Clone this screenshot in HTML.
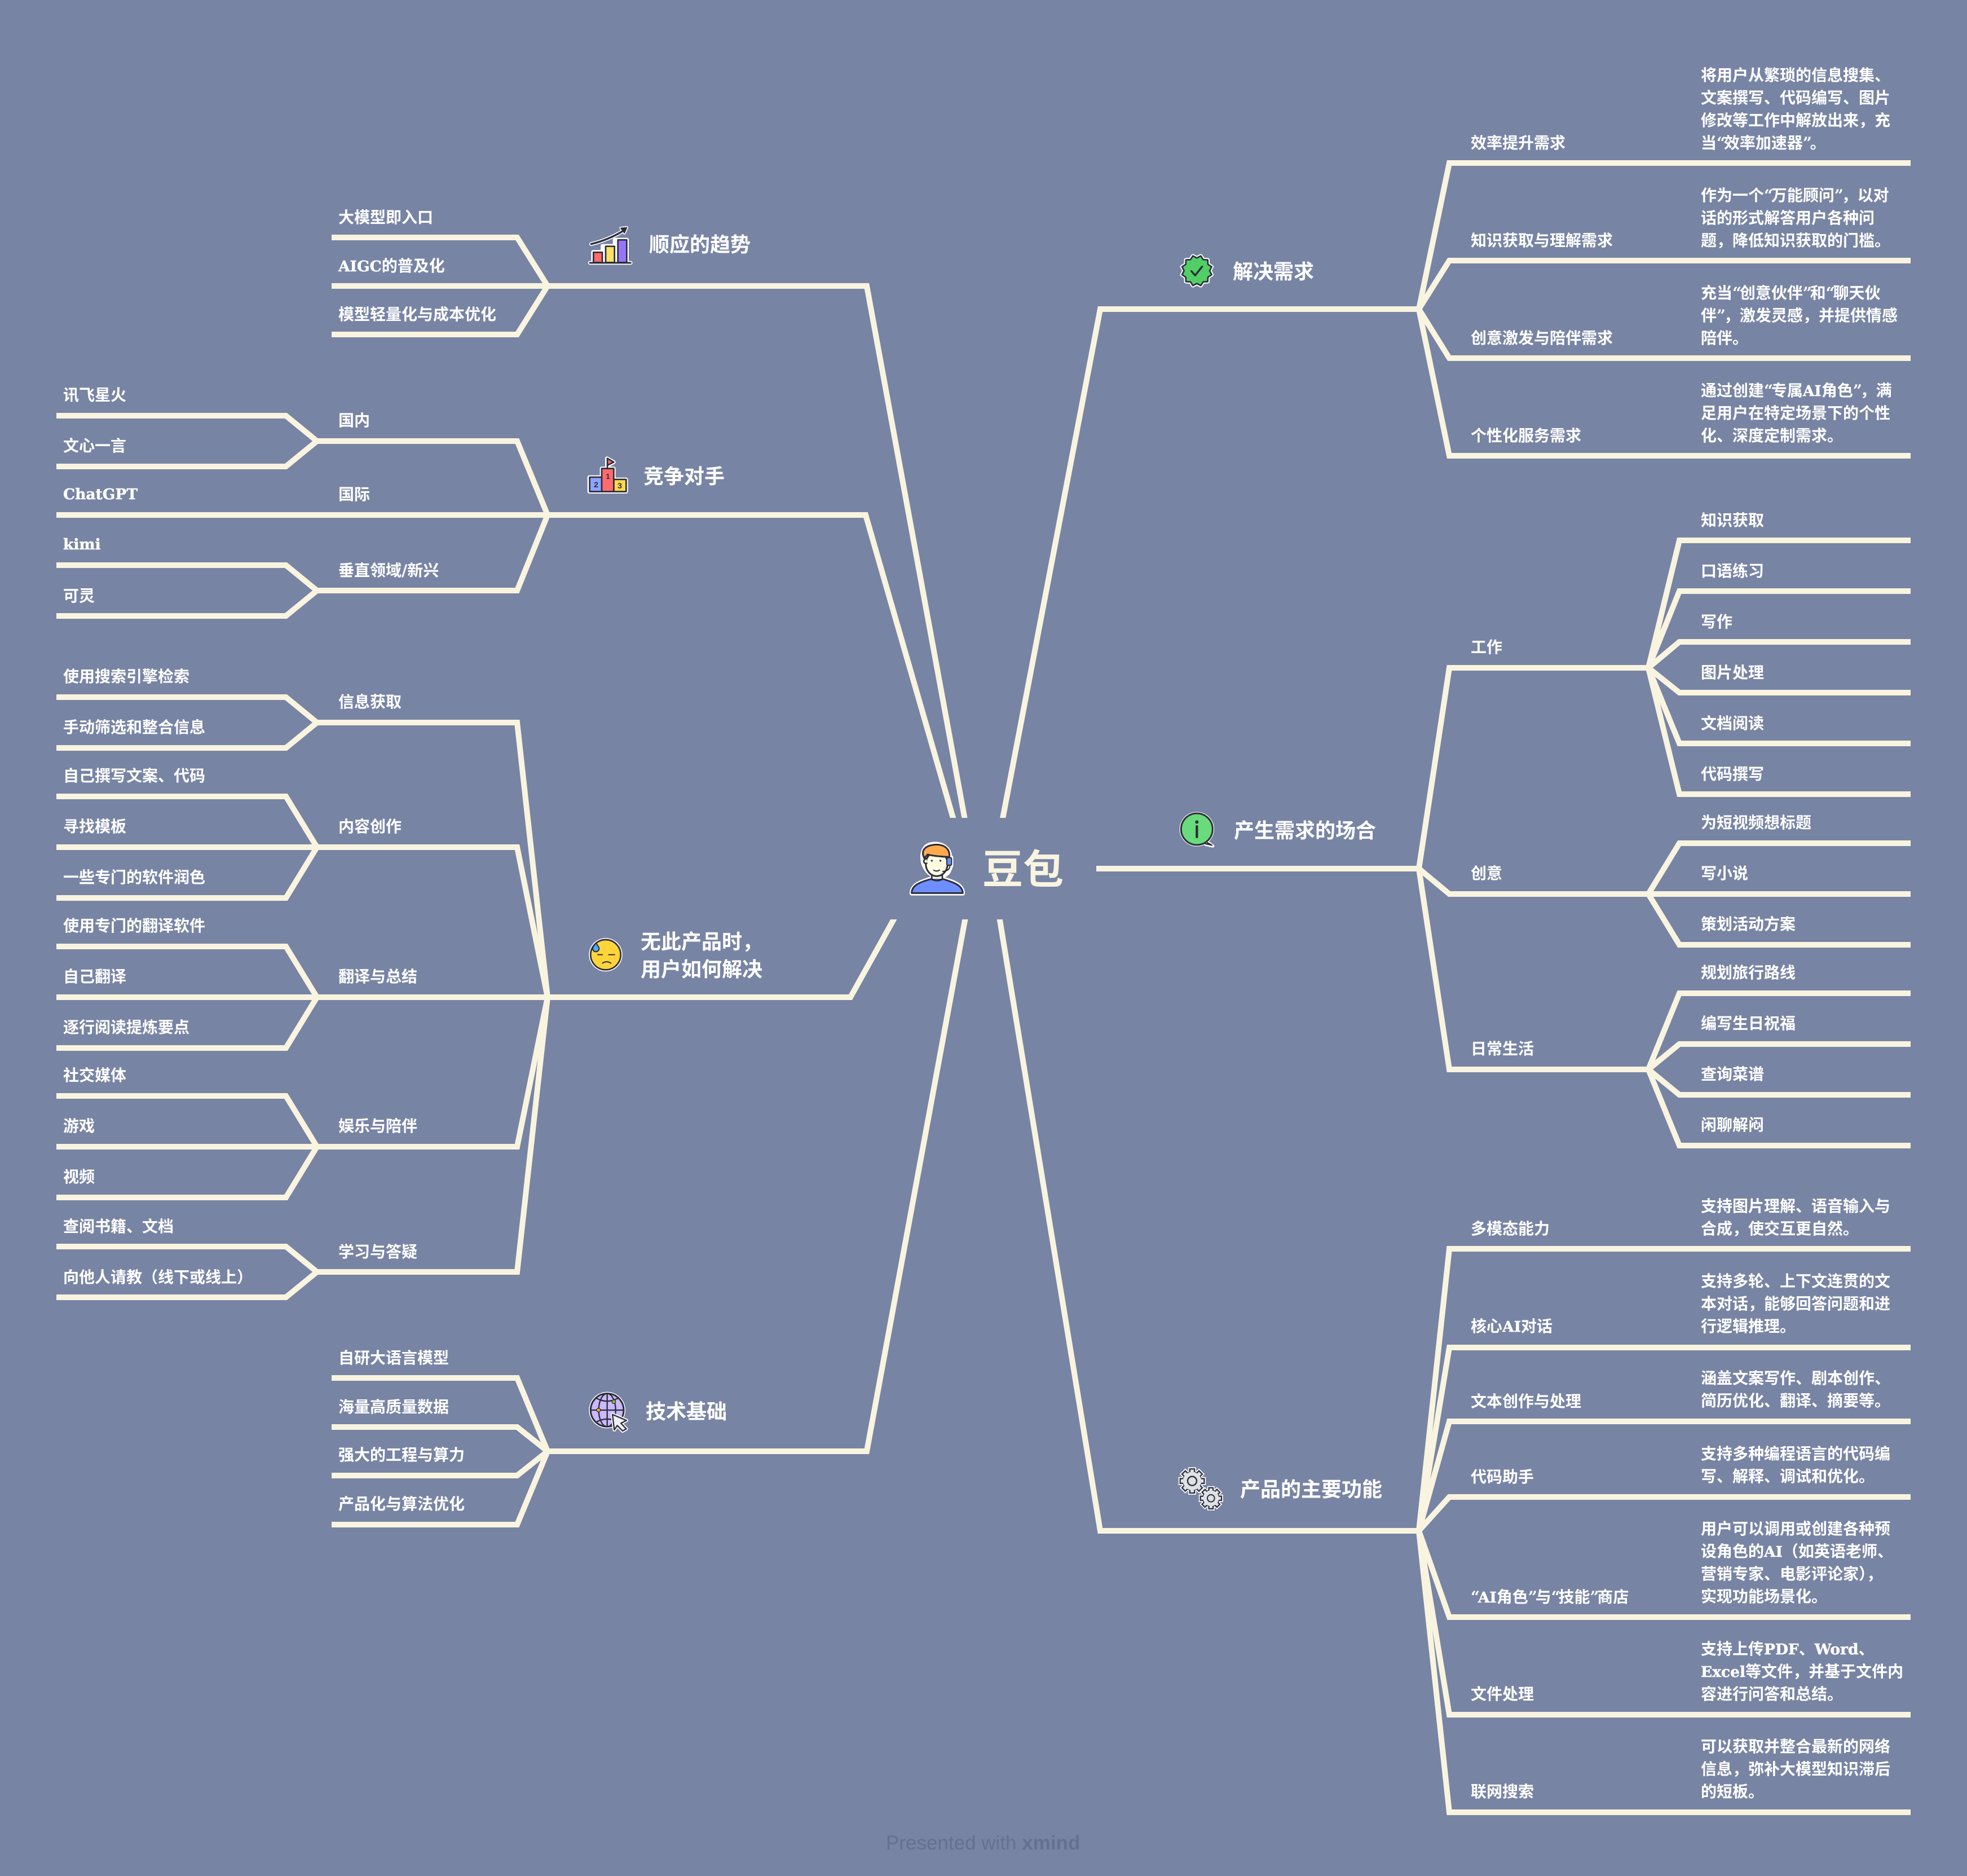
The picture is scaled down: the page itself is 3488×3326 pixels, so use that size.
<!DOCTYPE html>
<html lang="zh-CN"><head><meta charset="utf-8"><title>豆包</title>
<style>
html,body{margin:0;padding:0;background:#7884a4;width:3488px;height:3326px;overflow:hidden}
svg{display:block}
text{font-family:"DejaVu Serif","Noto Sans CJK SC","Liberation Sans",sans-serif;font-weight:700;fill:#fff;font-size:28px}
tspan.l{font-size:26.5px;stroke:#fff;stroke-width:.5px}
tspan.q{letter-spacing:-3.3px}
.h{font-family:"Noto Sans CJK SC","Liberation Sans",sans-serif;font-size:36px}
.r{font-family:"Noto Sans CJK SC","Liberation Sans",sans-serif;font-size:72px;fill:#f9f4df}
.f{font-family:"Liberation Sans",sans-serif;font-size:35px;font-weight:400;fill:#66718f}
.ln polyline{fill:none;stroke:#f9f4df;stroke-width:10;stroke-linejoin:miter}
</style></head><body>
<svg xmlns="http://www.w3.org/2000/svg" width="3488" height="3326" viewBox="0 0 3488 3326">
<rect width="3488" height="3326" fill="#7884a4"/>
<defs>
<g id="gear"><circle r="50"/><rect x="-13" y="-66" width="26" height="132"/><rect x="-13" y="-66" width="26" height="132" transform="rotate(45)"/><rect x="-13" y="-66" width="26" height="132" transform="rotate(90)"/><rect x="-13" y="-66" width="26" height="132" transform="rotate(135)"/></g>
</defs>
<g class="ln">
<!-- main -->
<polyline points="1727,1540 1537,507 971,507"/>
<polyline points="1716,1540 1535,913 971,913"/>
<polyline points="1635,1540 1508,1768 971,1768"/>
<polyline points="1728,1540 1537,2573 971,2573"/>
<polyline points="1761,1540 1951,548 2516,548"/>
<polyline points="1900,1540 2516,1540"/>
<polyline points="1758,1540 1951,2714 2516,2714"/>
<!-- 解决 -->
<polyline points="2516,548 2570,289 3388,289"/>
<polyline points="2516,548 2570,462 3388,462"/>
<polyline points="2516,548 2570,635 3388,635"/>
<polyline points="2516,548 2570,808 3388,808"/>
<!-- 产生 -->
<polyline points="2516,1540 2570,1184 2923,1184"/>
<polyline points="2516,1540 2570,1585 2923,1585"/>
<polyline points="2516,1540 2570,1896 2923,1896"/>
<polyline points="2923,1184 2978,958 3388,958"/>
<polyline points="2923,1184 2978,1048 3388,1048"/>
<polyline points="2923,1184 2978,1138 3388,1138"/>
<polyline points="2923,1184 2978,1228 3388,1228"/>
<polyline points="2923,1184 2978,1318 3388,1318"/>
<polyline points="2923,1184 2978,1408 3388,1408"/>
<polyline points="2923,1585 2978,1495 3388,1495"/>
<polyline points="2923,1585 3388,1585"/>
<polyline points="2923,1585 2978,1675 3388,1675"/>
<polyline points="2923,1896 2978,1761 3388,1761"/>
<polyline points="2923,1896 2978,1851 3388,1851"/>
<polyline points="2923,1896 2978,1941 3388,1941"/>
<polyline points="2923,1896 2978,2031 3388,2031"/>
<!-- 产品 -->
<polyline points="2516,2714 2570,2214 3388,2214"/>
<polyline points="2516,2714 2570,2389 3388,2389"/>
<polyline points="2516,2714 2570,2520 3388,2520"/>
<polyline points="2516,2714 2570,2654 3388,2654"/>
<polyline points="2516,2714 2570,2867 3388,2867"/>
<polyline points="2516,2714 2570,3040 3388,3040"/>
<polyline points="2516,2714 2570,3213 3388,3213"/>
<!-- 顺应 -->
<polyline points="971,507 917,421 588,421"/>
<polyline points="971,507 588,507"/>
<polyline points="971,507 917,593 588,593"/>
<!-- 竞争 -->
<polyline points="971,913 917,782 562,782"/>
<polyline points="971,913 100,913"/>
<polyline points="971,913 917,1047 562,1047"/>
<polyline points="100,737 507,737 562,782 507,827 100,827"/>
<polyline points="100,1002 507,1002 562,1047 507,1092 100,1092"/>
<!-- 无此 -->
<polyline points="971,1768 917,1281 562,1281"/>
<polyline points="971,1768 917,1502 562,1502"/>
<polyline points="971,1768 100,1768"/>
<polyline points="971,1768 917,2033 562,2033"/>
<polyline points="971,1768 917,2255 562,2255"/>
<polyline points="100,1236 507,1236 562,1281 507,1326 100,1326"/>
<polyline points="100,1412 507,1412 562,1502 507,1592 100,1592"/>
<polyline points="562,1502 100,1502"/>
<polyline points="100,1678 507,1678 562,1768 507,1858 100,1858"/>
<polyline points="100,1943 507,1943 562,2033 507,2123 100,2123"/>
<polyline points="562,2033 100,2033"/>
<polyline points="100,2210 507,2210 562,2255 507,2300 100,2300"/>
<!-- 技术 -->
<polyline points="971,2573 917,2443 588,2443"/>
<polyline points="971,2573 917,2530 588,2530"/>
<polyline points="971,2573 917,2616 588,2616"/>
<polyline points="971,2573 917,2703 588,2703"/>
</g>
<rect x="1570" y="1450" width="374" height="180" fill="#7884a4"/>

<!-- person icon -->
<g transform="translate(1500,1400) scale(.3333)" stroke-linejoin="round" stroke-linecap="round">
<path d="M350 552C350 510 390 492 455 473L515 473C580 492 622 510 622 552ZM430 300C480 270 560 300 552 360L560 360V405L545 440C520 470 450 470 425 420C405 395 395 330 430 300Z" fill="#fff" stroke="#fff" stroke-width="22"/>
<path d="M350 550C350 510 390 492 455 475Q485 492 515 475C580 495 620 510 622 550Z" fill="#6e8eff" stroke="#2b2d38" stroke-width="9"/>
<rect x="457" y="440" width="56" height="38" fill="#fffbe0" stroke="#2b2d38" stroke-width="8"/>
<path d="M457 476Q485 490 513 476" fill="#6e8eff" stroke="#2b2d38" stroke-width="8"/>
<ellipse cx="483" cy="395" rx="58" ry="65" fill="#fffbe0" stroke="#2b2d38" stroke-width="9"/>
<path d="M430 365Q410 375 415 385Q420 395 430 392" fill="#fffbe0" stroke="#2b2d38" stroke-width="8"/>
<path d="M417 365C395 320 425 295 480 292C530 292 555 320 550 358C510 357 460 352 435 345Z" fill="#ffa94d" stroke="#2b2d38" stroke-width="9"/>
<rect x="537" y="362" width="25" height="40" rx="5" fill="#6e8eff" stroke="#2b2d38" stroke-width="6"/>
<path d="M553 402Q555 432 515 435" fill="none" stroke="#2b2d38" stroke-width="6"/>
<circle cx="457" cy="378" r="5" fill="#2b2d38"/><circle cx="503" cy="378" r="5" fill="#2b2d38"/>
<path d="M467 428Q482 438 498 428" fill="none" stroke="#2b2d38" stroke-width="6"/>
</g>
<text x="1742" y="1567" class="r">豆包</text>

<!-- chart icon -->
<g transform="translate(1000,380) scale(.3333)" stroke-linejoin="round" stroke-linecap="round">
<path d="M145 158Q240 135 320 85" fill="none" stroke="#fff" stroke-width="20"/>
<path d="M302 73L335 70L322 100Z" fill="#fff" stroke="#fff" stroke-width="14"/>
<path d="M138 258H355M155 255V200H205V168H270V135H335V255" fill="#fff" stroke="#fff" stroke-width="20"/>
<path d="M145 158Q240 135 320 85" fill="none" stroke="#2b2d38" stroke-width="10"/>
<path d="M302 73L335 70L322 100Z" fill="#2b2d38" stroke="#2b2d38" stroke-width="4"/>
<rect x="157" y="202" width="47" height="54" fill="#ff6b6b" stroke="#2b2d38" stroke-width="8"/>
<rect x="222" y="170" width="47" height="86" fill="#ffe066" stroke="#2b2d38" stroke-width="8"/>
<rect x="287" y="136" width="47" height="120" fill="#9775fa" stroke="#2b2d38" stroke-width="8"/>
<path d="M138 258H355" stroke="#2b2d38" stroke-width="9" fill="none"/>
</g>
<text x="1151" y="446" class="h">顺应的趋势</text>

<!-- podium icon -->
<g transform="translate(1001,380) scale(.3333)" stroke-linejoin="round" stroke-linecap="round">
<path d="M132 1398H198V1352H226V1298L262 1318L232 1335V1352H262V1410H328V1475H132Z" fill="#fff" stroke="#fff" stroke-width="20"/>
<path d="M228 1352V1298L262 1318L228 1335" fill="#ff6b6b" stroke="#2b2d38" stroke-width="8"/>
<rect x="134" y="1398" width="66" height="77" fill="#8da3ff" stroke="#2b2d38" stroke-width="8"/>
<rect x="262" y="1410" width="66" height="65" fill="#ffd84d" stroke="#2b2d38" stroke-width="8"/>
<rect x="198" y="1352" width="64" height="123" fill="#ff6b6b" stroke="#2b2d38" stroke-width="8"/>
</g>
<text x="1078" y="849" style="font-family:'Liberation Sans',sans-serif;font-size:13px;fill:#2b2d38" text-anchor="middle">1</text>
<text x="1057" y="864" style="font-family:'Liberation Sans',sans-serif;font-size:14px;fill:#2b2d38" text-anchor="middle">2</text>
<text x="1099" y="866" style="font-family:'Liberation Sans',sans-serif;font-size:14px;fill:#2b2d38" text-anchor="middle">3</text>
<text x="1141" y="857" class="h">竞争对手</text>

<!-- badge -->
<g transform="translate(2060,420) scale(.3333)" stroke-linejoin="round" stroke-linecap="round">
<polygon points="255,180 266,201 246,214 245,238 221,239 208,259 187,248 166,259 153,239 129,238 128,214 108,201 119,180 108,159 128,146 129,122 153,121 166,101 187,112 208,101 221,121 245,122 246,146 266,159" fill="#fff" stroke="#fff" stroke-width="20"/>
<polygon points="255,180 266,201 246,214 245,238 221,239 208,259 187,248 166,259 153,239 129,238 128,214 108,201 119,180 108,159 128,146 129,122 153,121 166,101 187,112 208,101 221,121 245,122 246,146 266,159" fill="#51cf66" stroke="#2b2d38" stroke-width="8"/>
<path d="M158 182L178 205L215 158" fill="none" stroke="#2b2d38" stroke-width="10"/>
</g>
<text x="2186" y="494" class="h">解决需求</text>

<!-- info -->
<g transform="translate(2058,1420) scale(.3333)" stroke-linejoin="round" stroke-linecap="round">
<circle cx="193" cy="150" r="92" fill="#fff"/>
<path d="M245 215L278 240L240 232Z" fill="#fff" stroke="#fff" stroke-width="16"/>
<path d="M250 222L274 236L238 228" fill="#2b2d38" stroke="#2b2d38" stroke-width="6"/>
<circle cx="193" cy="150" r="84" fill="#69db7c" stroke="#2b2d38" stroke-width="9"/>
<circle cx="193" cy="112" r="9" fill="#2b2d38"/>
<path d="M193 135V192" stroke="#2b2d38" stroke-width="13" fill="none"/>
</g>
<text x="2188" y="1485" class="h">产生需求的场合</text>

<!-- gears -->
<g transform="translate(2060,2580) scale(.3333)">
<use href="#gear" transform="translate(162,137) scale(.97)" fill="#fff" stroke="#fff" stroke-width="18"/>
<use href="#gear" transform="translate(262,229) scale(.85)" fill="#fff" stroke="#fff" stroke-width="20"/>
<use href="#gear" transform="translate(162,137) scale(.97)" fill="#dee2e6" stroke="#2b2d38" stroke-width="7"/>
<circle cx="162" cy="137" r="49" fill="#dee2e6"/>
<circle cx="162" cy="137" r="24" fill="#dee2e6" stroke="#2b2d38" stroke-width="7"/>
<use href="#gear" transform="translate(262,229) scale(.85)" fill="#dee2e6" stroke="#2b2d38" stroke-width="8"/>
<circle cx="262" cy="229" r="42" fill="#dee2e6"/>
<circle cx="262" cy="229" r="19" fill="#dee2e6" stroke="#2b2d38" stroke-width="6"/>
</g>
<text x="2199" y="2653" class="h">产品的主要功能</text>

<!-- face -->
<g transform="translate(1000,1620) scale(.3333)" stroke-linecap="round" stroke-linejoin="round">
<circle cx="222" cy="218" r="89" fill="#fff"/>
<circle cx="222" cy="218" r="80" fill="#ffd43b" stroke="#2b2d38" stroke-width="8"/>
<path d="M170 155C160 170 153 178 153 185A17 17 0 0 0 187 185C187 178 180 170 170 155Z" fill="#4dabf7" stroke="#2b2d38" stroke-width="6"/>
<path d="M180 218H205M238 218H270" stroke="#2b2d38" stroke-width="6" fill="none"/>
<path d="M205 263Q227 248 250 263" stroke="#2b2d38" stroke-width="6" fill="none"/>
</g>
<text x="1136" y="1682" class="h">无此产品时，</text>
<text x="1136" y="1731" class="h">用户如何解决</text>

<!-- globe -->
<g transform="translate(1000,2440) scale(.3333)" stroke-linecap="round" stroke-linejoin="round">
<circle cx="230" cy="180" r="97" fill="#fff"/>
<circle cx="230" cy="180" r="88" fill="#cbb8ff" stroke="#2b2d38" stroke-width="9"/>
<path d="M230 92V268M142 180H318M170 115Q230 150 290 115M170 245Q230 210 290 245" fill="none" stroke="#2b2d38" stroke-width="7"/>
<ellipse cx="230" cy="180" rx="45" ry="88" fill="none" stroke="#2b2d38" stroke-width="7"/>
<circle cx="184" cy="180" r="10" fill="#ffb020" stroke="#2b2d38" stroke-width="4"/>
<circle cx="265" cy="135" r="10" fill="#7bd21e" stroke="#2b2d38" stroke-width="4"/>
<path d="M258 203L333 235L303 250L332 280L312 291L284 262L268 285Z" fill="#fff" stroke="#fff" stroke-width="18"/>
<path d="M258 203L333 235L303 250L332 280L312 291L284 262L268 285Z" fill="#eff1f5" stroke="#2b2d38" stroke-width="7"/>
</g>
<text x="1145" y="2515" class="h">技术基础</text>

<!-- right labels -->
<text x="2608" y="263">效率提升需求</text>
<text x="3016" y="143">将用户从繁琐的信息搜集、</text><text x="3016" y="183">文案撰写、代码编写、图片</text><text x="3016" y="223">修改等工作中解放出来，充</text><text x="3016" y="263">当<tspan class="q">“</tspan>效率加速器<tspan class="q">”</tspan>。</text>
<text x="2608" y="436">知识获取与理解需求</text>
<text x="3016" y="356">作为一个<tspan class="q">“</tspan>万能顾问<tspan class="q">”</tspan>，以对</text><text x="3016" y="396">话的形式解答用户各种问</text><text x="3016" y="436">题，降低知识获取的门槛。</text>
<text x="2608" y="609">创意激发与陪伴需求</text>
<text x="3016" y="529">充当<tspan class="q">“</tspan>创意伙伴<tspan class="q">”</tspan>和<tspan class="q">“</tspan>聊天伙</text><text x="3016" y="569">伴<tspan class="q">”</tspan>，激发灵感，并提供情感</text><text x="3016" y="609">陪伴。</text>
<text x="2608" y="782">个性化服务需求</text>
<text x="3016" y="702">通过创建<tspan class="q">“</tspan>专属<tspan class="l">AI</tspan>角色<tspan class="q">”</tspan>，满</text><text x="3016" y="742">足用户在特定场景下的个性</text><text x="3016" y="782">化、深度定制需求。</text>

<text x="2608" y="1157">工作</text>
<text x="3016" y="932">知识获取</text><text x="3016" y="1022">口语练习</text><text x="3016" y="1112">写作</text><text x="3016" y="1202">图片处理</text><text x="3016" y="1292">文档阅读</text><text x="3016" y="1382">代码撰写</text>
<text x="2608" y="1558">创意</text>
<text x="3016" y="1468">为短视频想标题</text><text x="3016" y="1558">写小说</text><text x="3016" y="1648">策划活动方案</text>
<text x="2608" y="1869">日常生活</text>
<text x="3016" y="1734">规划旅行路线</text><text x="3016" y="1824">编写生日祝福</text><text x="3016" y="1914">查询菜谱</text><text x="3016" y="2004">闲聊解闷</text>

<text x="2608" y="2188">多模态能力</text>
<text x="3016" y="2148">支持图片理解、语音输入与</text><text x="3016" y="2188">合成，使交互更自然。</text>
<text x="2608" y="2361">核心<tspan class="l">AI</tspan>对话</text>
<text x="3016" y="2281">支持多轮、上下文连贯的文</text><text x="3016" y="2321">本对话，能够回答问题和进</text><text x="3016" y="2361">行逻辑推理。</text>
<text x="2608" y="2494">文本创作与处理</text>
<text x="3016" y="2453">涵盖文案写作、剧本创作、</text><text x="3016" y="2493">简历优化、翻译、摘要等。</text>
<text x="2608" y="2628">代码助手</text>
<text x="3016" y="2587">支持多种编程语言的代码编</text><text x="3016" y="2627">写、解释、调试和优化。</text>
<text x="2608" y="2841"><tspan class="q">“</tspan><tspan class="l">AI</tspan>角色<tspan class="q">”</tspan>与<tspan class="q">“</tspan>技能<tspan class="q">”</tspan>商店</text>
<text x="3016" y="2720">用户可以调用或创建各种预</text><text x="3016" y="2760">设角色的<tspan class="l">AI</tspan>（如英语老师、</text><text x="3016" y="2800">营销专家、电影评论家），</text><text x="3016" y="2840">实现功能场景化。</text>
<text x="2608" y="3013">文件处理</text>
<text x="3016" y="2933">支持上传<tspan class="l">PDF</tspan>、<tspan class="l">Word</tspan>、</text><text x="3016" y="2973"><tspan class="l">Excel</tspan>等文件，并基于文件内</text><text x="3016" y="3013">容进行问答和总结。</text>
<text x="2608" y="3186">联网搜索</text>
<text x="3016" y="3106">可以获取并整合最新的网络</text><text x="3016" y="3146">信息，弥补大模型知识滞后</text><text x="3016" y="3186">的短板。</text>

<!-- left labels -->
<text x="600" y="395">大模型即入口</text>
<text x="600" y="481"><tspan class="l">AIGC</tspan>的普及化</text>
<text x="600" y="567">模型轻量化与成本优化</text>

<text x="600" y="755">国内</text>
<text x="112" y="710">讯飞星火</text><text x="112" y="800">文心一言</text>
<text x="600" y="886">国际</text>
<text x="112" y="885"><tspan class="l">ChatGPT</tspan></text>
<text x="600" y="1021">垂直领域/新兴</text>
<text x="112" y="974"><tspan class="l">kimi</tspan></text><text x="112" y="1066">可灵</text>

<text x="600" y="1254">信息获取</text>
<text x="112" y="1209">使用搜索引擎检索</text><text x="112" y="1299">手动筛选和整合信息</text>
<text x="600" y="1475">内容创作</text>
<text x="112" y="1385">自己撰写文案、代码</text><text x="112" y="1475">寻找模板</text><text x="112" y="1565">一些专门的软件润色</text>
<text x="600" y="1741">翻译与总结</text>
<text x="112" y="1651">使用专门的翻译软件</text><text x="112" y="1741">自己翻译</text><text x="112" y="1831">逐行阅读提炼要点</text>
<text x="600" y="2006">娱乐与陪伴</text>
<text x="112" y="1916">社交媒体</text><text x="112" y="2006">游戏</text><text x="112" y="2096">视频</text>
<text x="600" y="2229">学习与答疑</text>
<text x="112" y="2184">查阅书籍、文档</text><text x="112" y="2274">向他人请教（线下或线上）</text>

<text x="600" y="2417">自研大语言模型</text>
<text x="600" y="2504">海量高质量数据</text>
<text x="600" y="2589">强大的工程与算力</text>
<text x="600" y="2676">产品化与算法优化</text>

<text x="1571" y="3279" class="f">Presented with <tspan style="font-weight:700">xmind</tspan></text>
</svg>
</body></html>
